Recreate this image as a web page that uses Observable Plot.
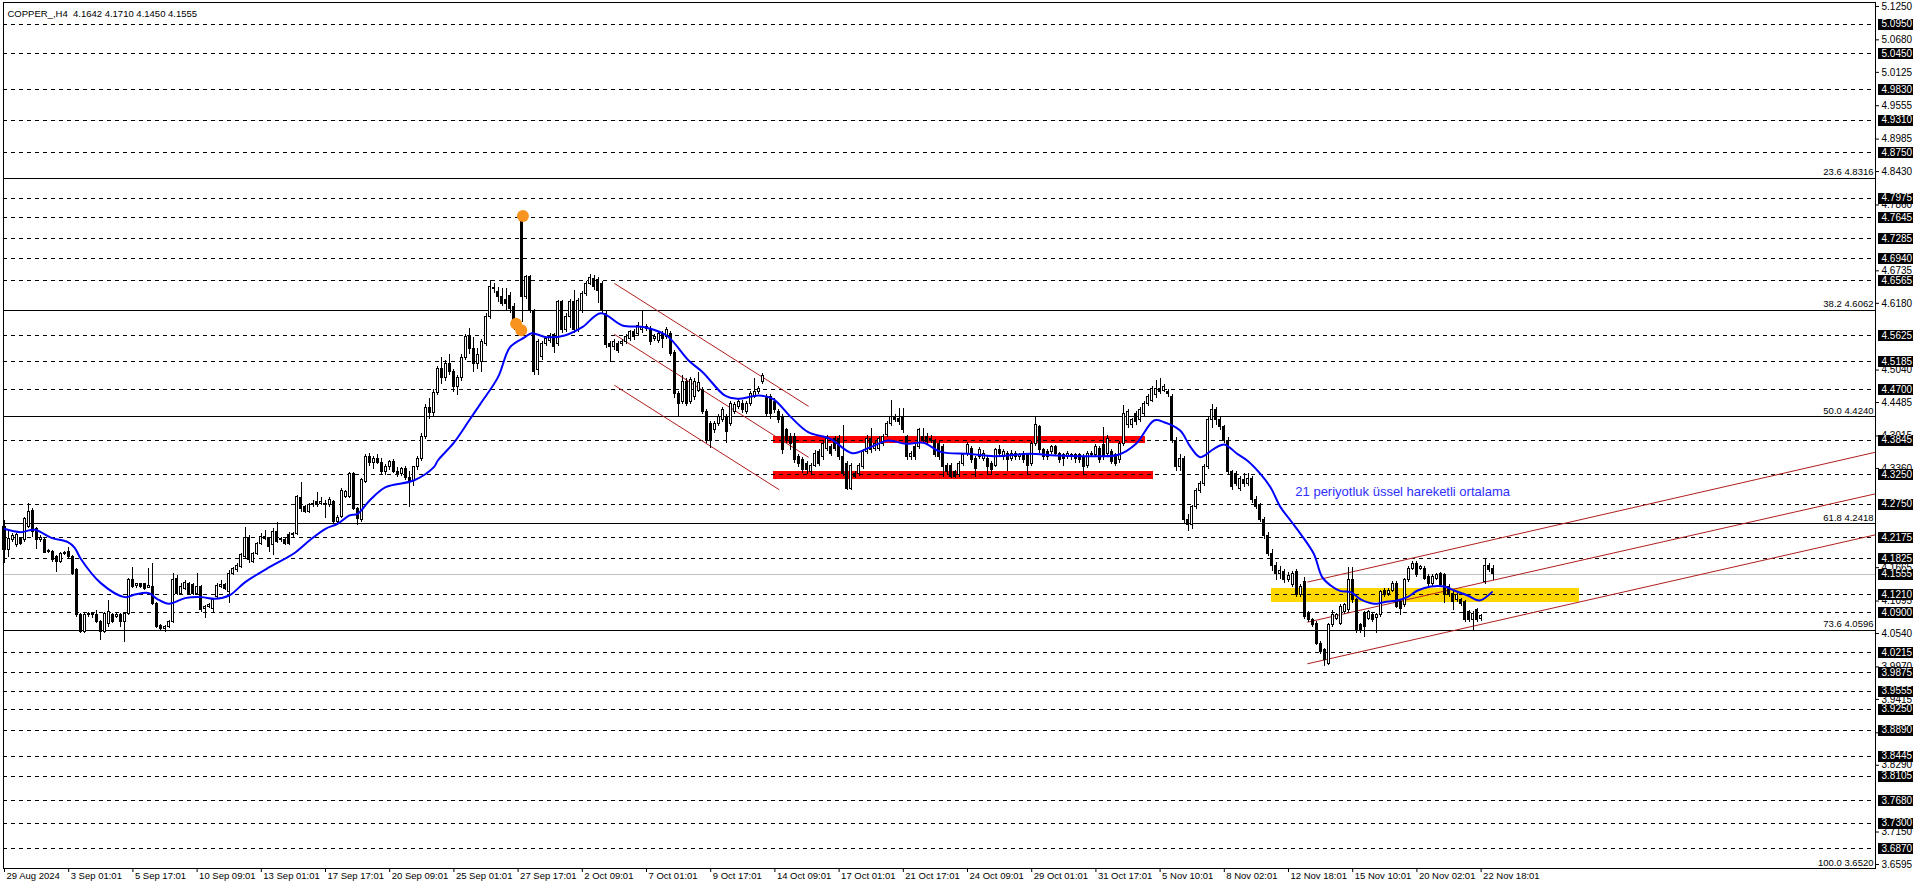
<!DOCTYPE html>
<html><head><meta charset="utf-8">
<script src="https://cdn.jsdelivr.net/npm/d3@7"></script>
<script src="https://cdn.jsdelivr.net/npm/@observablehq/plot@0.6"></script>
<style>
html,body{margin:0;padding:0;background:#fff;}
#chart{width:1916px;height:888px;overflow:hidden;}
</style></head><body><div id="chart"></div>
<script>
const symbol = "COPPER_";
const timeframe = "H4";

const opens = [4.2357,4.1959,4.2141,4.2044,4.2158,4.2130,4.2357,4.2631,4.2329,4.2130,
4.2130,4.1931,4.1931,4.1845,4.1760,4.1902,4.1931,4.1845,4.1617,4.0849,
4.0564,4.0849,4.0877,4.0849,4.0735,4.0564,4.0707,4.0849,4.0820,4.0849,
4.0735,4.0877,4.1447,4.1344,4.1378,4.1378,4.1321,4.1333,4.1048,4.0667,
4.0621,4.0650,4.0735,4.1475,4.1219,4.1304,4.1390,4.1361,4.1219,4.1333,
4.0963,4.0991,4.0963,4.1162,4.1333,4.1361,4.1247,4.1560,4.1617,4.1674,
4.1845,4.2175,4.1760,4.1902,4.2073,4.2187,4.2158,4.2044,4.2272,4.2158,
4.2141,4.2215,4.2215,4.2244,4.2858,4.2699,4.2614,4.2727,4.2784,4.2756,
4.2756,4.2727,4.2784,4.2443,4.2528,4.2870,4.2870,4.3268,4.2671,4.2471,
4.3126,4.3553,4.3450,4.3520,4.3460,4.3300,4.3380,4.3470,4.3300,4.3260,
4.3350,4.3200,4.3150,4.3380,4.3520,4.3900,4.4400,4.4300,4.4650,4.5050,
4.4900,4.5150,4.5000,4.4750,4.4900,4.5250,4.5600,4.5400,4.5150,4.5175,
4.549,4.594,4.645,4.637,4.629,4.623,4.631,4.612,4.583,4.765,
4.6285,4.6638,4.6057,4.5033,4.526,4.549,4.5545,4.5631,4.5488,4.620,
4.5716,4.5944,4.6200,4.5716,4.6057,4.6342,4.6513,4.6598,4.6570,4.6513,
4.6001,4.5488,4.5431,4.5488,4.5488,4.5517,4.5574,4.5688,4.5659,4.5716,
4.5773,4.5744,4.5574,4.5545,4.5659,4.5602,4.5659,4.5335,4.4634,4.4492,
4.4833,4.4492,4.4577,4.4691,4.4703,4.4321,4.4122,4.4019,4.4122,4.4179,
4.4236,4.4122,4.4321,4.4407,4.4463,4.4321,4.4463,4.4577,4.4663,4.4833,
4.4577,4.4577,4.4492,4.4321,4.4236,4.4008,4.3894,4.3894,4.3553,4.3496,
4.3439,4.3296,4.3410,4.3638,4.3553,4.3695,4.3723,4.3866,4.3866,4.3553,
4.3439,4.3012,4.3268,4.3268,4.3382,4.3638,4.3866,4.3695,4.3695,4.3780,
4.3923,4.4122,4.4236,4.4207,4.4236,4.3894,4.3553,4.3723,4.3723,4.3894,
4.3894,4.3866,4.3809,4.3780,4.3723,4.3410,4.3410,4.3296,4.3240,4.3439,
4.3610,4.3695,4.3524,4.3553,4.3524,4.3524,4.3439,4.3410,4.3667,4.3553,
4.3610,4.3524,4.3610,4.3553,4.3610,4.3581,4.3439,4.3780,4.4065,4.3667,
4.3638,4.3638,4.3723,4.3610,4.3581,4.3553,4.3553,4.3581,4.3581,4.3553,
4.3410,4.3610,4.3581,4.3695,4.3752,4.3610,4.3638,4.3581,4.3496,4.3780,
4.4094,4.4094,4.4293,4.4179,4.4293,4.4463,4.4520,4.4606,4.4720,4.4691,
4.4663,4.4577,4.3837,
4.3382,4.3524,4.2471,4.2400,4.2699,4.2983,4.3097,
4.3382,4.4179,4.4350,4.4179,4.4065,4.3837,4.3297,4.3268,4.3012,4.3154,
4.3097,4.3183,4.2813,4.2727,4.2471,4.2200,4.1900,4.1700,4.1550,
4.1589,4.1446,4.1361,4.1589,4.1190,4.1418,4.0877,4.0763,4.0706,4.0365,4.0251,
4.0023,4.0678,4.0792,4.0706,4.0905,4.0934,4.1446,4.1105,4.0678,4.0877,
4.0792,4.0849,4.0809,4.0849,4.1275,4.1219,4.1275,4.1389,4.1076,4.1019,
4.1446,4.1646,4.1731,4.1646,4.1646,4.1503,4.1389,4.1475,4.1560,4.1532,
4.1332,4.1219,4.1105,4.1105,4.1076,4.0905,4.0763,4.0934,4.0780,4.1418,4.1702,4.1642];

const highs = [4.2471,4.2300,4.2244,4.2244,4.2187,4.2528,4.2756,4.2671,4.2357,4.2215,
4.2158,4.1970,4.1959,4.1874,4.1931,4.1948,4.2016,4.1874,4.1646,4.0877,
4.0877,4.0906,4.0906,4.0934,4.0764,4.0906,4.1105,4.0877,4.0906,4.0877,
4.0906,4.1475,4.1674,4.1401,4.1401,4.1401,4.1646,4.1731,4.1076,4.0692,
4.0678,4.0764,4.1560,4.1532,4.1390,4.1447,4.1418,4.1390,4.1560,4.1361,
4.1020,4.1048,4.1133,4.1390,4.1447,4.1390,4.1617,4.1674,4.1731,4.1902,
4.2357,4.2215,4.1931,4.2101,4.2244,4.2300,4.2187,4.2328,4.2443,4.2187,
4.2187,4.2272,4.2272,4.2898,4.3126,4.2727,4.2756,4.2813,4.2955,4.2870,
4.2813,4.2870,4.2813,4.2557,4.3012,4.2984,4.3296,4.3296,4.2699,4.3183,
4.3600,4.3620,4.3560,4.3600,4.3530,4.3420,4.3500,4.3520,4.3380,4.3380,
4.3390,4.3310,4.3400,4.3560,4.3950,4.4450,4.4550,4.4700,4.5100,4.5250,
4.5200,4.5300,4.5050,4.4950,4.5300,4.5650,4.5750,4.5600,4.5400,4.5560,
4.600,4.657,4.652,4.645,4.643,4.643,4.636,4.618,4.590,4.768,
4.6655,4.666,4.608,4.556,4.553,4.56,4.566,4.566,4.623,4.623,
4.600,4.625,4.640,4.627,4.638,4.656,4.667,4.665,4.662,4.656,
4.604,4.552,4.556,4.552,4.556,4.565,4.572,4.573,4.585,4.6057,
4.582,4.578,4.565,4.569,4.570,4.576,4.570,4.537,4.467,4.4947,
4.490,4.492,4.489,4.5004,4.475,4.436,4.416,4.416,4.428,4.44,
4.428,4.45,4.448,4.455,4.452,4.45,4.468,4.4890,4.476,4.4985,
4.462,4.462,4.455,4.436,4.428,4.404,4.395,4.395,4.36,4.355,
4.348,4.345,4.366,4.368,4.383,4.392,4.377,4.39,4.3923,4.4094,
4.348,4.345,4.331,4.345,4.368,4.392,4.4036,4.382,4.39,4.394,
4.416,4.4520,4.428,4.4378,4.4378,4.393,4.365,4.377,4.405,4.4036,
4.395,4.392,4.385,4.382,4.377,4.345,4.345,4.333,4.348,4.362,
4.38,4.374,4.356,4.372,4.366,4.356,4.348,4.37,4.3752,4.368,
4.365,4.366,4.365,4.362,4.365,4.362,4.382,4.4236,4.41,4.37,
4.368,4.376,4.376,4.364,4.362,4.365,4.362,4.362,4.362,4.359,
4.365,4.365,4.377,4.374,4.4065,4.392,4.368,4.362,4.382,4.4435,
4.436,4.422,4.434,4.44,4.45,4.462,4.476,4.4862,4.4890,4.479,
4.47,4.462,4.388,
4.360,4.356,4.258,4.272,4.302,4.314,4.342,
4.425,4.445,4.440,4.425,4.410,4.388,4.333,4.330,4.322,4.3268,
4.3268,4.322,4.288,4.276,4.252,4.226,4.197,4.176,4.168,
4.1630,4.158,4.160,4.163,4.137,4.150,4.091,4.079,4.074,4.040,4.028,
4.072,4.0934,4.089,4.103,4.106,4.1674,4.1674,4.114,4.071,4.091,
4.094,4.088,4.088,4.128,4.131,4.131,4.143,4.143,4.111,4.148,
4.168,4.177,4.177,4.171,4.168,4.154,4.154,4.157,4.1589,4.157,
4.137,4.125,4.123,4.114,4.111,4.094,4.091,4.097,4.087,4.1816,4.174,4.1710];

const lows = [4.1731,4.1845,4.2101,4.2016,4.2044,4.2101,4.2329,4.2187,4.1970,4.2101,
4.1902,4.1902,4.1760,4.1589,4.1731,4.1874,4.1817,4.1532,4.0820,4.0536,
4.0536,4.0820,4.0792,4.0707,4.0422,4.0536,4.0650,4.0707,4.0792,4.0650,
4.0393,4.0849,4.1304,4.1304,4.1304,4.1276,4.1304,4.1020,4.0621,4.0593,
4.0564,4.0621,4.0707,4.1190,4.1190,4.1276,4.1190,4.1190,4.1190,4.0906,
4.0792,4.0963,4.0906,4.1133,4.1304,4.1276,4.1048,4.1532,4.1589,4.1646,
4.1817,4.1731,4.1731,4.1874,4.2044,4.2130,4.1931,4.1874,4.2073,4.2101,
4.2044,4.2044,4.2187,4.2215,4.2614,4.2585,4.2585,4.2699,4.2699,4.2727,
4.2500,4.2699,4.2415,4.2386,4.2500,4.2841,4.2841,4.2642,4.2386,4.2443,
4.3098,4.3390,4.3350,4.3420,4.3250,4.3240,4.3330,4.3280,4.3200,4.3230,
4.3150,4.2700,4.3050,4.3330,4.3480,4.3850,4.4200,4.4250,4.4600,4.4800,
4.4850,4.4950,4.4650,4.4600,4.4850,4.5200,4.5300,4.5000,4.5050,4.5000,
4.545,4.590,4.635,4.620,4.612,4.606,4.600,4.572,4.576,4.585,
4.625,4.600,4.4947,4.4947,4.52,4.545,4.55,4.5317,4.545,4.566,
4.568,4.575,4.566,4.568,4.600,4.630,4.648,4.640,4.617,4.600,
4.540,4.5175,4.538,4.533,4.545,4.548,4.553,4.555,4.562,4.567,
4.570,4.546,4.552,4.550,4.540,4.556,4.527,4.455,4.425,4.445,
4.442,4.445,4.452,4.465,4.428,4.378,4.3695,4.396,4.408,4.414,
4.378,4.408,4.428,4.436,4.43,4.428,4.442,4.455,4.462,4.48,
4.425,4.420,4.43,4.412,4.36,4.378,4.3667,4.345,4.338,4.328,
4.326,4.325,4.337,4.34,4.35,4.365,4.356,4.365,4.35,4.322,
4.298,4.298,4.318,4.322,4.334,4.36,4.362,4.365,4.365,4.374,
4.388,4.408,4.414,4.41,4.396,4.35,4.35,4.35,4.368,4.38,
4.376,4.378,4.354,4.35,4.3211,4.325,4.318,4.318,4.32,4.34,
4.357,4.345,4.321,4.351,4.348,4.325,4.324,4.337,4.357,4.35,
4.33,4.348,4.35,4.35,4.345,4.326,4.34,4.374,4.362,4.35,
4.35,4.36,4.356,4.345,4.34,4.352,4.35,4.345,4.345,4.325,
4.336,4.355,4.354,4.345,4.35,4.356,4.342,4.34,4.345,4.374,
4.405,4.405,4.41,4.414,4.425,4.442,4.448,4.456,4.462,4.465,
4.458,4.378,4.33,
4.330,4.240,4.228,4.232,4.266,4.294,4.305,
4.334,4.405,4.410,4.400,4.378,4.325,4.298,4.305,4.296,4.304,
4.305,4.276,4.266,4.243,4.215,4.185,4.160,4.145,4.146,
4.140,4.142,4.133,4.115,4.116,4.078,4.073,4.0649,4.033,4.019,3.9983,
3.999,4.064,4.076,4.067,4.087,4.090,4.106,4.0535,4.0535,4.0478,
4.076,4.073,4.0535,4.082,4.116,4.118,4.124,4.096,4.0849,4.099,
4.141,4.161,4.150,4.161,4.144,4.135,4.135,4.144,4.133,4.1048,
4.115,4.0934,4.107,4.101,4.073,4.073,4.0592,4.073,4.075,4.138,4.158,4.1450];

const closes = [4.1959,4.2158,4.2198,4.2215,4.2073,4.2500,4.2614,4.2272,4.2130,4.2175,
4.1913,4.1948,4.1788,4.1760,4.1902,4.1913,4.1845,4.1560,4.0849,4.0564,
4.0849,4.0877,4.0849,4.0735,4.0564,4.0877,4.0906,4.0735,4.0849,4.0735,
4.0877,4.1447,4.1333,4.1378,4.1333,4.1304,4.1344,4.1048,4.0650,4.0621,
4.0650,4.0735,4.1447,4.1219,4.1333,4.1401,4.1219,4.1219,4.1333,4.0934,
4.0991,4.1020,4.1105,4.1344,4.1361,4.1304,4.1560,4.1646,4.1686,4.1874,
4.2175,4.1788,4.1902,4.2073,4.2187,4.2158,4.2016,4.2272,4.2101,4.2130,
4.2073,4.2073,4.2244,4.2870,4.2671,4.2614,4.2727,4.2756,4.2727,4.2784,
4.2727,4.2824,4.2443,4.2517,4.2972,4.2955,4.3268,4.2671,4.2500,4.3154,
4.3553,4.3450,4.3520,4.3460,4.3300,4.3380,4.3470,4.3300,4.3260,4.3350,
4.3200,4.3150,4.3380,4.3520,4.3900,4.4400,4.4300,4.4650,4.5050,4.4900,
4.5150,4.5000,4.4750,4.4900,4.5250,4.5600,4.5400,4.5150,4.5300,4.5517,
4.594,4.646,4.643,4.629,4.617,4.617,4.609,4.586,4.586,4.6285,
4.6627,4.6057,4.5004,4.5517,4.549,4.557,4.5602,4.5431,4.620,4.5716,
4.5944,4.6200,4.5716,4.6228,4.6342,4.6513,4.6615,4.6456,4.6399,4.6057,
4.5460,4.5431,4.5517,4.5374,4.5517,4.5602,4.5688,4.5602,4.5801,4.5773,
4.5744,4.5517,4.5602,4.5659,4.5574,4.5716,4.5317,4.4634,4.4463,4.4833,
4.4463,4.4862,4.4833,4.4816,4.4321,4.3837,4.3837,4.4122,4.4236,4.4350,
4.3980,4.4463,4.4435,4.4492,4.4350,4.4463,4.4634,4.4663,4.4720,4.4947,
4.4293,4.4293,4.4350,4.4179,4.3667,4.3837,4.3780,4.3496,4.3439,4.3325,
4.3325,4.3410,4.3610,4.3439,4.3780,4.3866,4.3610,4.3695,4.3553,4.3268,
4.3012,4.3410,4.3211,4.3410,4.3638,4.3866,4.3667,4.3780,4.3866,4.3894,
4.4122,4.4236,4.4179,4.4150,4.4008,4.3553,4.3610,4.3553,4.4008,4.3837,
4.3809,4.3837,4.3581,4.3553,4.3382,4.3296,4.3211,4.3211,4.3439,4.3581,
4.3752,4.3496,4.3353,4.3667,4.3610,4.3382,4.3325,4.3667,4.3610,4.3638,
4.3496,4.3610,4.3553,4.3581,4.3496,4.3410,4.3780,4.4094,4.3667,4.3553,
4.3553,4.3723,4.3610,4.3496,4.3524,4.3610,4.3581,4.3524,4.3496,4.3382,
4.3610,4.3581,4.3723,4.3496,4.3553,4.3866,4.3467,4.3439,4.3780,4.4293,
4.4321,4.4179,4.4150,4.4350,4.4463,4.4577,4.4720,4.4720,4.4663,4.4748,
4.4634,4.3837,4.3382,
4.3524,4.2471,4.2400,4.2699,4.2983,4.3097,4.3382,
4.4179,4.4350,4.4179,4.4065,4.3837,4.3297,4.3040,4.3097,4.3183,4.3097,
4.3183,4.2813,4.2699,4.2471,4.2200,4.1900,4.1700,4.1550,4.1600,
4.1446,4.1530,4.1560,4.1190,4.1332,4.0820,4.0763,4.0678,4.0365,4.0222,4.0080,
4.0678,4.0849,4.0849,4.0991,4.1019,4.1446,4.1105,4.0592,4.0592,4.0649,
4.0905,4.0763,4.0849,4.1247,4.1190,4.1275,4.1389,4.0991,4.0962,4.1446,
4.1646,4.1731,4.1532,4.1674,4.1475,4.1389,4.1503,4.1532,4.1361,4.1190,
4.1190,4.1076,4.1190,4.1048,4.0763,4.0763,4.0877,4.0763,4.0837,4.1702,4.1617,4.1555];

// 21-period EMA (bar index, price)
const emaBars = [0,4,7.5,11.7,15.8,17.5,19,24,30,32.5,36,38,41,45,49,52.5,56,60,66,72,76,80,83,86,88,91,95,102,107,108,112,116,118.6,123,126,129.7,131.4,135,139.6,144,148.6,154,159.5,165,170.5,174,179.5,182.6,188,191.5,196,200.3,205.8,211.3,215.8,220.2,224.6,229,233.5,240,246.7,255.5,262,271,277.6,282,286.5,289,293,295.6,298,301.4,304,307.2,309.7,313,315.5,318,320.5,323,326.3,328.4,330.5,333,335.5,338,341.3,343.8,347.1,349.6,352.2,355.5,358.8,361.3,364.6,367.6,370.7];
const emaValues = [4.2329,4.2272,4.2312,4.2175,4.2101,4.2005,4.1817,4.1401,4.1162,4.1207,4.1230,4.1133,4.1048,4.1145,4.1162,4.1133,4.1190,4.1418,4.1674,4.1902,4.2130,4.2329,4.2414,4.2557,4.2585,4.2813,4.3041,4.3154,4.3382,4.3496,4.38,4.42,4.4463,4.4919,4.5431,4.5602,4.5670,4.5602,4.5631,4.5773,4.6012,4.5801,4.5773,4.5631,4.5204,4.5004,4.4606,4.4549,4.4606,4.4549,4.4236,4.3980,4.3866,4.3621,4.3723,4.3837,4.3780,4.3797,4.3638,4.3610,4.3570,4.3610,4.3581,4.3570,4.3593,4.3780,4.4179,4.4150,4.4008,4.3724,4.3553,4.3695,4.3769,4.3610,4.3496,4.3268,4.3040,4.2699,4.2471,4.2243,4.1902,4.1503,4.1361,4.1264,4.1247,4.1122,4.1048,4.1076,4.1105,4.1162,4.1275,4.1344,4.1344,4.1275,4.1190,4.1105,4.1247];

const dateTickBars = [0,16,32,48,64,80,96,112,128,144,160,176,192,208,224,240,256,272,288,304,320,336,352,368];
const dateLabels = ["29 Aug 2024","3 Sep 01:01","5 Sep 17:01","10 Sep 09:01","13 Sep 01:01","17 Sep 17:01","20 Sep 09:01","25 Sep 01:01","27 Sep 17:01","2 Oct 09:01","7 Oct 01:01","9 Oct 17:01","14 Oct 09:01","17 Oct 01:01","21 Oct 17:01","24 Oct 09:01","29 Oct 01:01","31 Oct 17:01","5 Nov 10:01","8 Nov 02:01","12 Nov 18:01","15 Nov 10:01","20 Nov 02:01","22 Nov 18:01"];

const dashedLevels = [5.0950,5.0450,4.9830,4.9310,4.8750,4.7975,4.7645,4.7285,4.6940,4.6565,4.5625,4.5185,4.4700,4.3845,4.3250,4.2750,4.2175,4.1825,4.1210,4.0900,4.0215,3.9875,3.9555,3.9250,3.8890,3.8445,3.8105,3.7680,3.7300,3.6870];
const bidPrice = 4.1555;
// plain scale labels that stay visible beside the highlighted ones
const axisTicks = [5.1250,5.0680,5.0125,4.9555,4.8985,4.8430,4.7860,4.6735,4.6180,4.5040,4.4485,4.3915,4.3360,4.1665,4.1095,4.0540,3.9970,3.9415,3.8845,3.8290,3.7150,3.6595];

const fibRatios = ["23.6","38.2","50.0","61.8","73.6","100.0"];
const fibPrices = [4.8316,4.6062,4.4240,4.2418,4.0596,3.6520];

// drawn objects, in (bar index, price)
const channelDown = [
  {x1:152, y1:4.652, x2:200.4, y2:4.442},
  {x1:152, y1:4.565, x2:200.4, y2:4.355},
  {x1:152, y1:4.478, x2:193.1, y2:4.2995}];
const channelUp = [
  {x1:324.7, y1:4.1418, x2:466.3, y2:4.3637},
  {x1:324.7, y1:4.0734, x2:466.3, y2:4.2927},
  {x1:324.7, y1:4.0023, x2:466.3, y2:4.2227}];
const redZones = [
  {x1:191.6, x2:284.4, y1:4.378, y2:4.391},
  {x1:191.6, x2:286.4, y1:4.3166, y2:4.3308}];
const yellowZones = [{x1:315.8, x2:392.5, y1:4.1076, y2:4.1304}];
const orangeMarks = [{x:129.2, y:4.767},{x:127.5, y:4.583},{x:128.8, y:4.572}];
const notes = [{x:321.7, y:4.2966, text:"21 periyotluk üssel hareketli ortalama"}];

const n = Math.min(opens.length, highs.length, lows.length, closes.length);
const bars = d3.range(n).map(i => ({i, o:opens[i], h:highs[i], l:lows[i], c:closes[i]}));
const ema = emaBars.map((b,k) => ({x:b, y:emaValues[k]}));
const dates = dateTickBars.map((b,k) => ({x:b, label:dateLabels[k]}));
const fibs = fibPrices.map((p,k) => ({p, r:fibRatios[k]}));
const boxLevels = dashedLevels.concat([bidPrice]);
const last = bars[n-1];
const title = `${symbol},${timeframe}\u00a0\u00a0${last.o.toFixed(4)} ${last.h.toFixed(4)} ${last.l.toFixed(4)} ${last.c.toFixed(4)}`;

const W = 1916, H = 888, mL = 3, mR = 41, mT = 2, mB = 20;
const font = "'Liberation Sans', Arial, sans-serif";

const chart = Plot.plot({
  width: W, height: H,
  marginLeft: mL, marginRight: mR, marginTop: mT, marginBottom: mB,
  style: {fontFamily: font, fontSize: "10px", background: "#fff", color: "#000", overflow: "visible"},
  x: {domain: [-0.249, 466.29], axis: "bottom", ticks: dateTickBars, tickFormat: () => "", tickSize: 4, label: null},
  y: {domain: [3.6527, 5.1318], axis: "right", ticks: axisTicks, tickFormat: d => d.toFixed(4), tickSize: 3, tickPadding: 3, label: null},
  marks: [
    Plot.rect(redZones, {x1:"x1", x2:"x2", y1:"y1", y2:"y2", fill:"#ff0000", shapeRendering:"crispEdges"}),
    Plot.rect(yellowZones, {x1:"x1", x2:"x2", y1:"y1", y2:"y2", fill:"#ffd700", shapeRendering:"crispEdges"}),
    Plot.ruleY(dashedLevels, {stroke:"#000", strokeWidth:1, strokeDasharray:"4,4", shapeRendering:"crispEdges"}),
    Plot.ruleY([bidPrice], {stroke:"#c0c0c0", strokeWidth:1, shapeRendering:"crispEdges"}),
    Plot.ruleY(fibPrices, {stroke:"#000", strokeWidth:1, shapeRendering:"crispEdges"}),
    Plot.text(fibs, {y:"p", text: d => `${d.r} ${d.p.toFixed(4)}`, frameAnchor:"right", textAnchor:"end", dx:-2, dy:-6, fontSize:9.5, fill:"#000"}),
    Plot.link(channelDown, {x1:"x1", y1:"y1", x2:"x2", y2:"y2", stroke:"#b01e1e", strokeWidth:1}),
    Plot.link(channelUp, {x1:"x1", y1:"y1", x2:"x2", y2:"y2", stroke:"#b01e1e", strokeWidth:1}),
    Plot.ruleX(bars, {x:"i", y1:"l", y2:"h", stroke:"#000", strokeWidth:1, shapeRendering:"crispEdges"}),
    Plot.rect(bars, {x1: d => d.i - 0.25, x2: d => d.i + 0.25, y1:"o", y2:"c",
      fill: d => d.c >= d.o ? "#fff" : "#000", stroke:"#000", strokeWidth:1, shapeRendering:"crispEdges"}),
    Plot.line(ema, {x:"x", y:"y", stroke:"#0000ff", strokeWidth:2, curve:"catmull-rom"}),
    Plot.dot(orangeMarks, {x:"x", y:"y", r:6, fill:"#f7931e", stroke:"none"}),
    Plot.text(notes, {x:"x", y:"y", text:"text", textAnchor:"start", fill:"#2f2fff", fontSize:13}),
    Plot.text([title], {frameAnchor:"top-left", dx:4, dy:8, textAnchor:"start", fontSize:9.5, fill:"#000"}),
    Plot.text(dates, {x:"x", text:"label", frameAnchor:"bottom", textAnchor:"start", dx:2, dy:10, fontSize:9.5, fill:"#000"}),
    Plot.frame({stroke:"#000", strokeWidth:1, shapeRendering:"crispEdges"}),
    Plot.text(boxLevels, {y: d => d, text: d => d.toFixed(4), frameAnchor:"right", textAnchor:"start", dx:6, fill:"#fff", fontSize:10, ariaLabel:"boxed-price"})
  ]
});

document.getElementById("chart").appendChild(chart);

// black boxes behind the highlighted price labels, placed with Plot's own y scale
const svgEl = chart.tagName.toLowerCase() === "svg" ? chart : chart.querySelector("svg");
const yScale = chart.scale("y");
const svg = d3.select(svgEl);
const boxG = svg.append("g").attr("class", "price-boxes");
boxLevels.forEach(v => {
  const yy = Math.round(yScale.apply(v));
  boxG.append("rect").attr("x", W - mR + 3).attr("y", yy - 5).attr("width", 35).attr("height", 11)
    .attr("fill", "#000").attr("shape-rendering", "crispEdges");
});
let boxedText = svgEl.querySelector('g[aria-label="boxed-price"]');
if (!boxedText) {
  const groups = svgEl.querySelectorAll('g[aria-label="text"]');
  boxedText = groups[groups.length - 1];
}
if (boxedText) svgEl.appendChild(boxedText);
</script>
</body></html>
